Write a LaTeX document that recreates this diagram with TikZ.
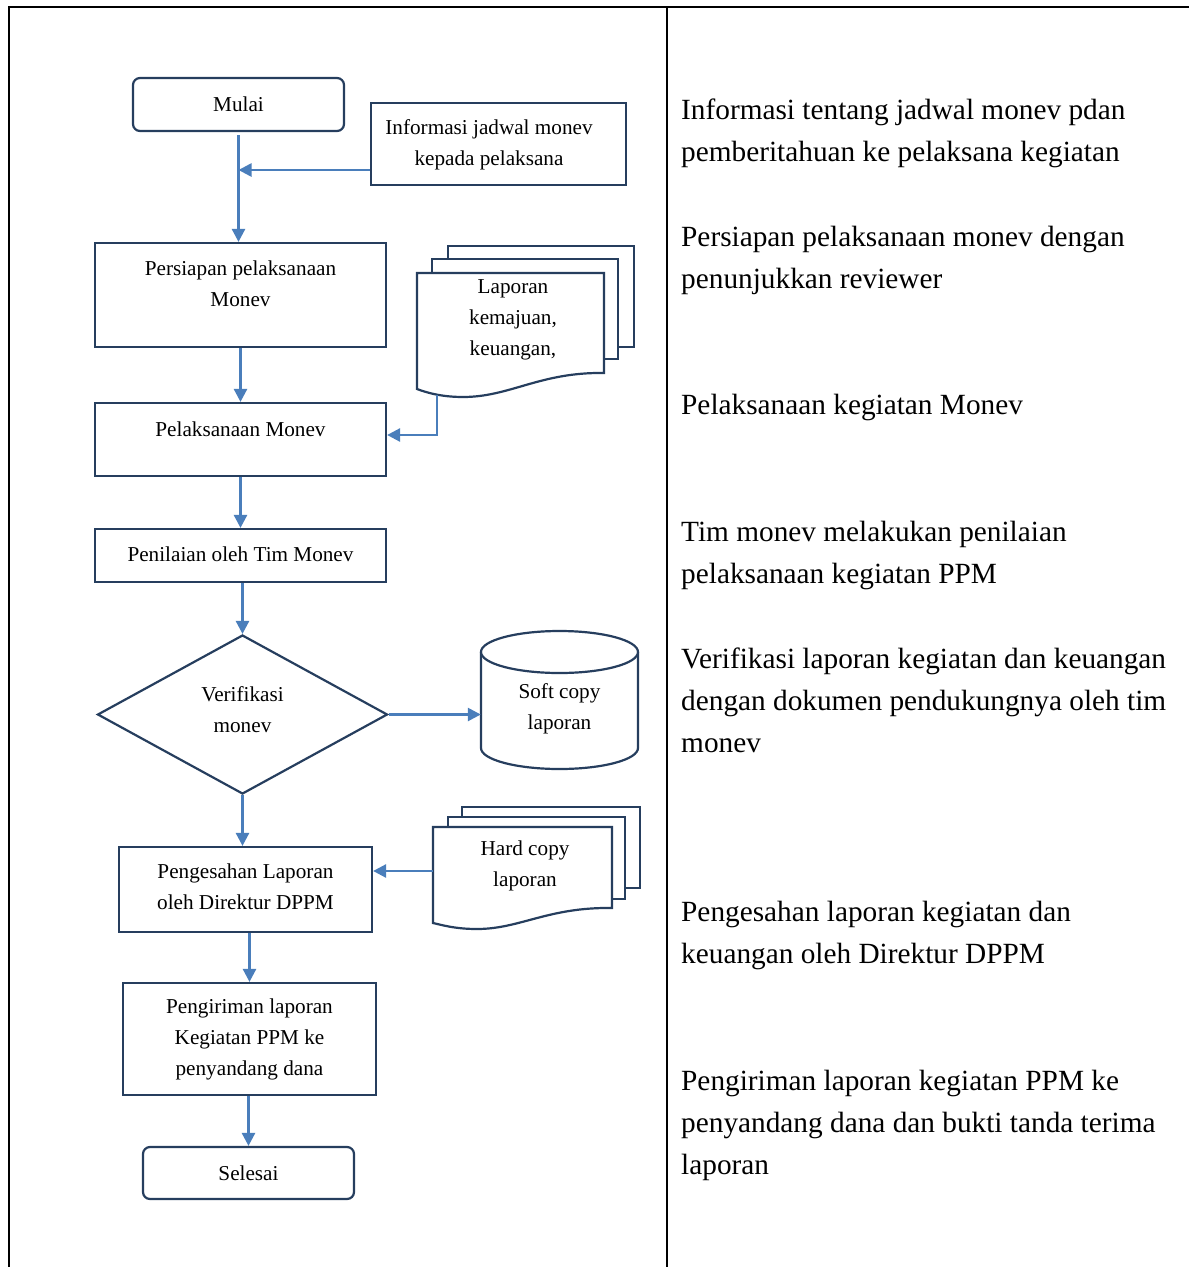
\documentclass[tikz,border=0pt]{standalone}
\usepackage{fontspec}
\setmainfont{Liberation Serif}
\usetikzlibrary{arrows.meta,shapes.geometric,calc}
\definecolor{navy}{RGB}{38,62,94}
\definecolor{flowblue}{RGB}{74,126,187}
\begin{document}
\begin{tikzpicture}[x=1pt,y=-1pt,
  boxline/.style={draw=navy, line width=2.2pt, fill=white},
  proc/.style={boxline, inner sep=0pt},
  term/.style={proc, rounded corners=7pt},
  flow/.style={draw=flowblue, line width=2.6pt, -{Triangle[length=13pt,width=13pt]}},
  grid/.style={draw=black, line width=2pt},
  small/.style={font=\fontsize{21.2}{31}\selectfont, align=center, inner sep=0pt, anchor=base},
  note/.style={font=\fontsize{29.3}{42}\selectfont, align=left, inner sep=0pt, anchor=base west}]
\useasboundingbox (0,0) rectangle (1189,1267);

% table frame
\draw[grid] (8,7) -- (1189,7);
\draw[grid] (9,7) -- (9,1267);
\draw[grid] (667,7) -- (667,1267);

% process boxes
\node[term, minimum width=211pt, minimum height=53pt] (mulai) at (238.5,104.5) {};
\node[proc, minimum width=255pt, minimum height=82pt] (info) at (498.5,144) {};
\node[proc, minimum width=291pt, minimum height=104pt] (persiapan) at (240.5,295) {};
\node[proc, minimum width=291pt, minimum height=73pt] (pelaksanaan) at (240.5,439.5) {};
\node[proc, minimum width=291pt, minimum height=53pt] (penilaian) at (240.5,555.5) {};
\node[boxline, diamond, inner sep=0pt, minimum width=290pt, minimum height=159pt] (verif) at (242.5,714.5) {};
\node[proc, minimum width=253pt, minimum height=85pt] (pengesahan) at (245.5,889.5) {};
\node[proc, minimum width=253pt, minimum height=112pt] (pengiriman) at (249.5,1039) {};
\node[term, minimum width=211pt, minimum height=52pt] (selesai) at (248.5,1173) {};

% cylinder: soft copy store
\node[inner sep=0pt, minimum width=157pt, minimum height=138pt] (soft) at (559.5,700) {};
\draw[boxline] (481,652) -- (481,748) arc[start angle=180, end angle=360, x radius=78.5pt, y radius=21pt] -- (638,652);
\draw[boxline] (559.5,652) ellipse [x radius=78.5pt, y radius=21pt];

% stacked documents: progress and financial reports
\draw[boxline] (448,246) rectangle (634,347);
\draw[boxline] (432,259) rectangle (618,359);
\draw[boxline] (417,273) -- (604,273) -- (604,373)
  .. controls (540,372) and (510,397) .. (463,397)
  .. controls (440,397) and (425,392) .. (417,389) -- cycle;
\coordinate (lapout) at (437,395);

% stacked documents: hard copy reports
\draw[boxline] (462,807) rectangle (640,888);
\draw[boxline] (448,817) rectangle (625,899);
\draw[boxline] (433,827) -- (612,827) -- (612,908)
  .. controls (548,907) and (520,929) .. (477,929)
  .. controls (455,929) and (442,925) .. (433,923) -- cycle;
\coordinate (hardout) at (433,871);

% labels inside the shapes (placed by the baseline of their last line)
\node[small] (tmulai) at (238.5,111) {Mulai};
\node[small] (tinfo) at (489,165) {Informasi jadwal monev\\kepada pelaksana};
\node[small] (tpersiapan) at (240.5,306) {Persiapan pelaksanaan\\Monev};
\node[small] (tpelaksanaan) at (240.5,436) {Pelaksanaan Monev};
\node[small] (tpenilaian) at (240.5,561) {Penilaian oleh Tim Monev};
\node[small] (tverif) at (242.5,732) {Verifikasi\\monev};
\node[small] (tsoft) at (559.5,729) {Soft copy\\laporan};
\node[small] (tlaporan) at (513,355) {Laporan\\kemajuan,\\keuangan,};
\node[small] (thard) at (525,886) {Hard copy\\laporan};
\node[small] (tpengesahan) at (245.5,909) {Pengesahan Laporan\\oleh Direktur DPPM};
\node[small] (tpengiriman) at (249.5,1075) {Pengiriman laporan\\Kegiatan PPM ke\\penyandang dana};
\node[small] (tselesai) at (248.5,1180) {Selesai};

% connectors
\draw[flow] ([yshift=-3pt]mulai.south) -- (mulai.south |- persiapan.north);
\draw[flow] ([yshift=-26pt]info.west) -- ([yshift=-26pt]info.west -| mulai.south);
\draw[flow] (persiapan) -- (pelaksanaan);
\draw[flow] (pelaksanaan) -- (penilaian);
\draw[flow] (penilaian.south -| verif.north) -- (verif.north);
\draw[flow] (verif.east) -- (verif.east -| soft.west);
\draw[flow] (lapout) |- ([yshift=4.5pt]pelaksanaan.east);
\draw[flow] (verif.south) -- (verif.south |- pengesahan.north);
\draw[flow] (hardout) -- (hardout -| pengesahan.east);
\draw[flow] (pengesahan.south -| pengiriman.north) -- (pengiriman.north);
\draw[flow] (pengiriman.south -| selesai.north) -- (selesai.north);

% description column
\node[note] (d1) at (681,161) {Informasi tentang jadwal monev pdan\\pemberitahuan ke pelaksana kegiatan};
\node[note] (d2) at (681,288) {Persiapan pelaksanaan monev dengan\\penunjukkan reviewer};
\node[note] (d3) at (681,414) {Pelaksanaan kegiatan Monev};
\node[note] (d4) at (681,583) {Tim monev melakukan penilaian\\pelaksanaan kegiatan PPM};
\node[note] (d5) at (681,752) {Verifikasi laporan kegiatan dan keuangan\\dengan dokumen pendukungnya oleh tim\\monev};
\node[note] (d6) at (681,963) {Pengesahan laporan kegiatan dan\\keuangan oleh Direktur DPPM};
\node[note] (d7) at (681,1174) {Pengiriman laporan kegiatan PPM ke\\penyandang dana dan bukti tanda terima\\laporan};
\end{tikzpicture}
\end{document}
